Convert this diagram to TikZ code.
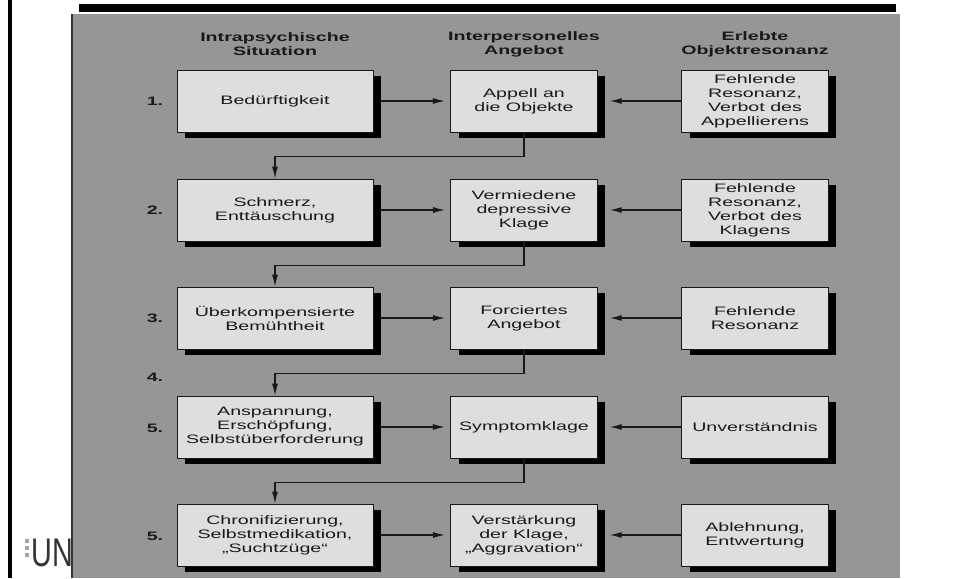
\documentclass[tikz,border=0pt]{standalone}
\usepackage{fontspec}
\setmainfont{Liberation Sans}[FakeStretch=1.6]
\newfontfamily\logofont{Liberation Sans}[FakeStretch=0.72]
\usetikzlibrary{arrows.meta,positioning,shadows}
\definecolor{panelgray}{gray}{0.59}
\definecolor{boxgray}{gray}{0.87}
\definecolor{inkgray}{gray}{0.1}

\begin{document}
\begin{tikzpicture}[x=0.75pt,y=-0.75pt,
  font=\fontsize{9.2}{10.5}\selectfont,
  box/.style={draw=inkgray,line width=0.6pt,fill=boxgray,align=center,
    minimum height=46.5pt,inner sep=2pt,text=inkgray,
    drop shadow={shadow xshift=6pt,shadow yshift=-4.5pt,fill=black,opacity=1}},
  wide/.style={box,minimum width=147pt},
  slim/.style={box,minimum width=110pt},
  head/.style={font=\fontsize{9.2}{10.5}\selectfont\bfseries,align=center,text=inkgray},
  num/.style={font=\fontsize{9.2}{10.5}\selectfont\bfseries,text=inkgray},
  flow/.style={line width=0.9pt,draw=inkgray,-{Latex[length=9pt,width=4.5pt]}}
]
  % page and scan frame
  \fill[white] (0,0) rectangle (955,578);
  \useasboundingbox (0,0) rectangle (955,578);
  \fill[black] (8,0) rectangle (12,578);
  \fill[gray!70] (25,539) rectangle (29,543);
  \fill[gray!70] (25,546) rectangle (29,550);
  \fill[gray!70] (25,553) rectangle (29,557);
  \node[anchor=west,inner sep=0pt,text=black!80] (logo) at (31,553)
    {\logofont\fontsize{30}{30}\selectfont UN};
  \fill[panelgray] (71,14) rectangle (900,578);
  \draw[gray!40!black,line width=0.8pt] (72,14) -- (72,578);
  \fill[black] (79,4) rectangle (896,12);

  % column heads
  \node[head] (hintra) at (275,44) {Intrapsychische\\Situation};
  \node[head] (hinter) at (524,44) {Interpersonelles\\Angebot};
  \node[head] (hobj) at (755,44) {Erlebte\\Objektresonanz};

  % row numbers
  \node[num] (n1) at (155,101) {1.};
  \node[num] (n2) at (155,210) {2.};
  \node[num] (n3) at (155,318) {3.};
  \node[num] (n4) at (155,377) {4.};
  \node[num] (n5) at (155,428) {5.};
  \node[num] (n6) at (155,536) {5.};

  % boxes
  \node[wide] (l1) at (275,101) {Bedürftigkeit};
  \node[slim] (m1) at (524,101) {Appell an\\die Objekte};
  \node[slim] (r1) at (755,101) {Fehlende\\Resonanz,\\Verbot des\\Appellierens};

  \node[wide] (l2) at (275,210) {Schmerz,\\Enttäuschung};
  \node[slim] (m2) at (524,210) {Vermiedene\\depressive\\Klage};
  \node[slim] (r2) at (755,210) {Fehlende\\Resonanz,\\Verbot des\\Klagens};

  \node[wide] (l3) at (275,318) {Überkompensierte\\Bemühtheit};
  \node[slim] (m3) at (524,318) {Forciertes\\Angebot};
  \node[slim] (r3) at (755,318) {Fehlende\\Resonanz};

  \node[wide] (l4) at (275,427) {Anspannung,\\Erschöpfung,\\Selbstüberforderung};
  \node[slim] (m4) at (524,427) {Symptomklage};
  \node[slim] (r4) at (755,427) {Unverständnis};

  \node[wide] (l5) at (275,535) {Chronifizierung,\\Selbstmedikation,\\„Suchtzüge“};
  \node[slim] (m5) at (524,535) {Verstärkung\\der Klage,\\„Aggravation“};
  \node[slim] (r5) at (755,535) {Ablehnung,\\Entwertung};

  % connectors
  \foreach \i in {1,...,5}{
    \draw[flow] ([xshift=6pt]l\i.east) -- ([xshift=-4pt]m\i.west);
    \draw[flow] (r\i.west) -- ([xshift=9pt]m\i.east);
  }
  \foreach \i/\j in {1/2,2/3,3/4,4/5}{
    \draw[flow] (m\i.south) -- ++(0,24) -| (l\j.north);
  }
\end{tikzpicture}
\end{document}
